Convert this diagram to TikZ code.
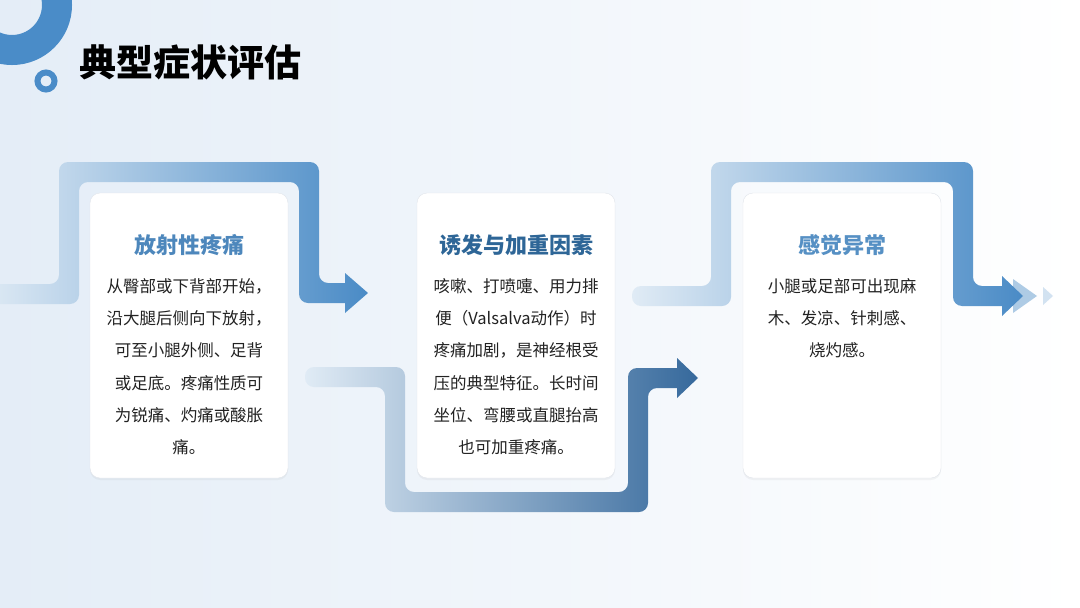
\documentclass[tikz,border=0pt]{standalone}
\usepackage{fontspec}
\usepackage{tikz}
\usetikzlibrary{shadows}
\newfontfamily\cjk{Noto Sans CJK SC}
\definecolor{bgblue}{HTML}{E4EDF7}
\definecolor{ringblue}{HTML}{4A8CC8}
\definecolor{bandlight}{HTML}{E0EBF5}
\definecolor{bandmid}{HTML}{4A8BC6}
\definecolor{banddark}{HTML}{36699C}
\definecolor{cardline}{HTML}{E1E5EB}
\definecolor{titleA}{HTML}{4D87BC}
\definecolor{titleB}{HTML}{2E6697}
\definecolor{titleC}{HTML}{5690C4}
\definecolor{bodytext}{HTML}{222222}

\begin{document}
\begin{tikzpicture}[x=1pt,y=-1pt,
  card/.style={draw=cardline,fill=white,rounded corners=10pt,minimum width=198pt,
    minimum height=285pt,inner sep=0pt,
    drop shadow={shadow xshift=0pt,shadow yshift=-2pt,opacity=.08}},
  cardtitle/.style={font=\cjk\bfseries\fontsize{22}{22}\selectfont,inner sep=0pt},
  cardbody/.style={font=\cjk\fontsize{16.5}{32.3}\selectfont,text=bodytext,
    align=center,inner sep=0pt,anchor=north}]
  \useasboundingbox (0,0) rectangle (1080,608);
  \clip (0,0) rectangle (1080,608);
  \shade[left color=bgblue,right color=white] (0,0) rectangle (1080,608);
  % corner rings
  \draw[ringblue,line width=30pt] (12,5) circle[radius=45];
  \draw[ringblue,line width=6pt] (46,81) circle[radius=8.5];
  \node[anchor=west,font=\cjk\bfseries\fontsize{37}{37}\selectfont] (title) at (76,62) {典型症状评估};
  % flow bands
  \shade[left color=bandlight,right color=bandmid]
    (-20,284) [rounded corners=9pt] -- (59,284) -- (59,162) -- (319,162) -- (319,283)
    [sharp corners] -- (345,283) -- (345,273) -- (368,293) -- (345,313) -- (345,303)
    [rounded corners=9pt] -- (299,303) -- (299,182) -- (79,182) -- (79,304) -- (-20,304) -- cycle;
  \shade[left color=bandlight,right color=banddark]
    (340,367) [rounded corners=9pt] -- (405,367) -- (405,492) -- (628,492) -- (628,368)
    [sharp corners] -- (677,368) -- (677,358) -- (698,378) -- (677,398) -- (677,388)
    [rounded corners=9pt] -- (648,388) -- (648,512) -- (385,512) -- (385,387) -- (305,387) -- (305,367) -- cycle;
  \fill[bandmid!45] (1013,279) -- (1037,296) -- (1013,313) -- cycle;
  \fill[bandmid!25] (1043,287) -- (1053,296) -- (1043,305) -- cycle;
  \shade[left color=bandlight,right color=bandmid]
    (660,286) [rounded corners=9pt] -- (711,286) -- (711,162) -- (973,162) -- (973,286)
    [sharp corners] -- (1002,286) -- (1002,276) -- (1023,296) -- (1002,316) -- (1002,306)
    [rounded corners=9pt] -- (953,306) -- (953,182) -- (731,182) -- (731,306) -- (632,306) -- (632,286) -- cycle;
  % cards
  \node[card] (c1) at (189,335.5) {};
  \node[card] (c2) at (516,335.5) {};
  \node[card] (c3) at (842,335.5) {};
  \node[cardtitle,text=titleA] (t1) at (189,245) {放射性疼痛};
  \node[cardtitle,text=titleB] (t2) at (516,245) {诱发与加重因素};
  \node[cardtitle,text=titleC] (t3) at (842,245) {感觉异常};
  \node[cardbody] (b1) at (189,278) {从臀部或下背部开始，\\沿大腿后侧向下放射，\\可至小腿外侧、足背\\或足底。疼痛性质可\\为锐痛、灼痛或酸胀\\痛。};
  \node[cardbody] (b2) at (516,278) {咳嗽、打喷嚏、用力排\\便（Valsalva动作）时\\疼痛加剧，是神经根受\\压的典型特征。长时间\\坐位、弯腰或直腿抬高\\也可加重疼痛。};
  \node[cardbody] (b3) at (842,278) {小腿或足部可出现麻\\木、发凉、针刺感、\\烧灼感。};
\end{tikzpicture}
\end{document}
